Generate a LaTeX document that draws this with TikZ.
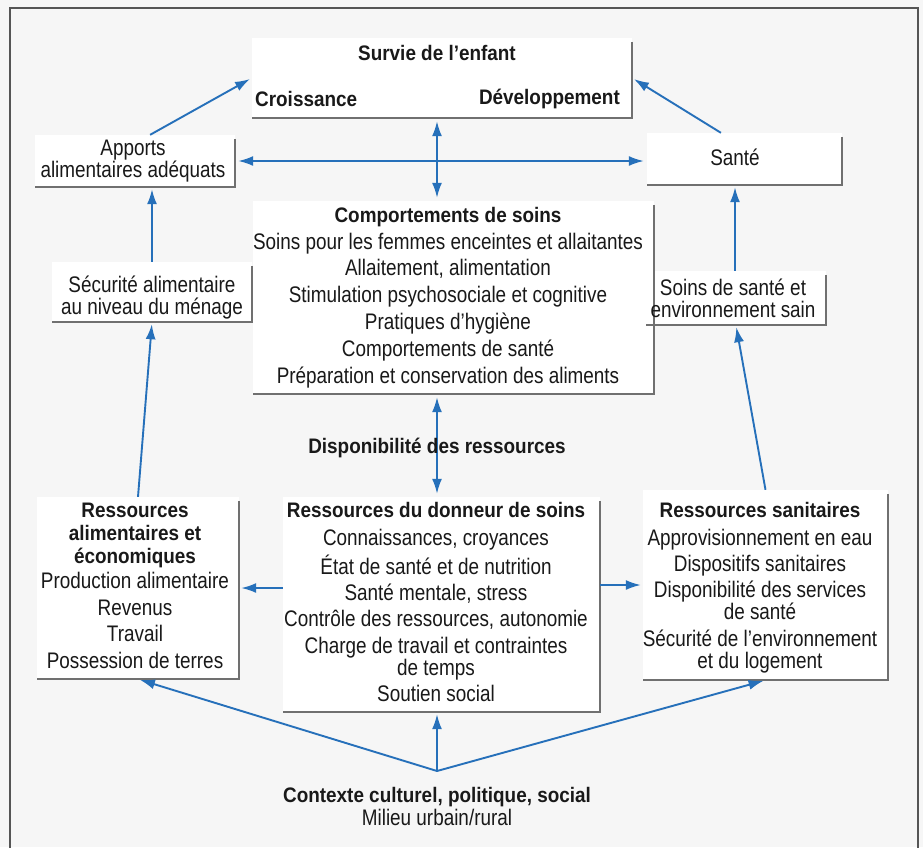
\documentclass[tikz,border=0pt]{standalone}
\usepackage{fontspec}
\setmainfont{Liberation Sans}
\newfontfamily\condreg{Liberation Sans}[FakeStretch=0.84]
\newfontfamily\condbold{Liberation Sans}[FakeStretch=0.9]
\usetikzlibrary{arrows.meta,calc}

\definecolor{pagebg}{RGB}{246,246,246}
\definecolor{framegray}{RGB}{85,85,85}
\definecolor{edgegray}{RGB}{112,112,112}
\definecolor{flowblue}{RGB}{38,112,186}
\definecolor{ink}{RGB}{25,25,25}

\newcommand\lblbody{\condreg\fontsize{22.5}{22}\selectfont}
\newcommand\lblhead{\condbold\bfseries\fontsize{21}{22}\selectfont}

\begin{document}
\begin{tikzpicture}[x=1pt,y=-1pt,
  panel/.style={fill=white, draw=none, inner sep=0pt},
  edge/.style={draw=edgegray, line width=2.4pt},
  label/.style={inner sep=0pt, align=center, text=ink, font=\lblbody},
  tip/.style={Latex[length=15pt,width=10pt]},
  flow/.style={draw=flowblue, line width=1.9pt, -{Latex[length=15pt,width=10pt]}, shorten >=2pt},
  flowboth/.style={draw=flowblue, line width=1.9pt, {Latex[length=15pt,width=10pt]}-{Latex[length=15pt,width=10pt]}, shorten >=3pt, shorten <=3pt}]

\useasboundingbox (0,0) rectangle (923,847);
\fill[pagebg] (0,0) rectangle (923,847);

% outer frame
\draw[framegray, line width=1.8pt] (10,850) -- (10,8) -- (918,8) -- (918,850);

% white panels
\node[panel, minimum width=380pt, minimum height=80pt] (survie) at (442,78) {};
\node[panel, minimum width=200pt, minimum height=52pt] (apb) at (135,161) {};
\node[panel, minimum width=195pt, minimum height=52pt] (santeb) at (744.5,159) {};
\node[panel, minimum width=200pt, minimum height=60pt] (secb) at (152,292) {};
\node[panel, minimum width=180pt, minimum height=54pt] (soinsb) at (736,298) {};
\node[panel, minimum width=401pt, minimum height=193pt] (compb) at (453.5,297.5) {};
\node[panel, minimum width=202pt, minimum height=182pt] (ralb) at (138,588) {};
\node[panel, minimum width=317pt, minimum height=215pt] (donb) at (441.5,604.5) {};
\node[panel, minimum width=245pt, minimum height=190pt] (rsanb) at (765.5,585) {};

% shaded right and bottom edges of the panels
\foreach \b in {survie,apb,santeb,secb,soinsb,compb,ralb,donb,rsanb}
  \draw[edge] ([yshift=-4pt]\b.north east) -- (\b.south east) -- (\b.south west);

% texts
\node[label, font=\lblhead] (survie-t) at (437,53) {Survie de l’enfant};
\node[label, font=\lblhead, anchor=west] (croiss) at (255,99) {Croissance};
\node[label, font=\lblhead, anchor=east] (devel) at (620,99) {Développement};

\node[label] (apb-t) at (133,161) {Apports\\alimentaires adéquats};
\node[label] (santeb-t) at (735,157) {Santé};
\node[label] (secb-t) at (152,298) {Sécurité alimentaire\\au niveau du ménage};
\node[label] (soinsb-t) at (733,298) {Soins de santé et\\environnement sain};

\node[label] (compb-t) at (448,297.5) {{\lblhead Comportements de soins}\\[4.8pt]
  Soins pour les femmes enceintes et allaitantes\\[4.8pt]
  Allaitement, alimentation\\[4.8pt]
  Stimulation psychosociale et cognitive\\[4.8pt]
  Pratiques d’hygiène\\[4.8pt]
  Comportements de santé\\[4.8pt]
  Préparation et conservation des aliments};

\node[label] (ralb-t) at (135,586) {{\lblhead Ressources}\\[1pt]
  {\lblhead alimentaires et}\\[1pt]
  {\lblhead économiques}\\[3pt]
  Production alimentaire\\[4.7pt]
  Revenus\\[4.7pt]
  Travail\\[4.7pt]
  Possession de terres};

\node[label] (donb-t) at (436,602) {{\lblhead Ressources du donneur de soins}\\[6pt]
  Connaissances, croyances\\[4pt]
  État de santé et de nutrition\\[4pt]
  Santé mentale, stress\\[4pt]
  Contrôle des ressources, autonomie\\[4.5pt]
  Charge de travail et contraintes\\
  de temps\\[4pt]
  Soutien social};

\node[label] (rsanb-t) at (760,587.5) {{\lblhead Ressources sanitaires}\\[6pt]
  Approvisionnement en eau\\[4pt]
  Dispositifs sanitaires\\[4pt]
  Disponibilité des services\\
  de santé\\[5pt]
  Sécurité de l’environnement\\
  et du logement};

\node[label] (ctx) at (437,806) {{\lblhead Contexte culturel, politique, social}\\[1pt]
  Milieu urbain/rural};
\coordinate (hub) at (437,771);

% connectors
\draw[flow] (apb.60) -- (survie.west);
\draw[flow] (santeb.132) -- (survie.east);
\draw[flowboth] (survie.south -| ctx) -- (compb.north -| ctx);
\draw[flowboth] (apb.east) -- (apb.east -| santeb.west);

\draw[flow] (secb.north) -- (secb.north |- apb.south);
\draw[flow] (ralb.north) -- (secb.south);
\draw[flow] (soinsb.north -| santeb-t) -- (santeb.south -| santeb-t);
\draw[flow] (rsanb.north) -- (soinsb.south);

\draw[flowboth] (compb.south -| ctx) -- (donb.north -| ctx);
\node[label, font=\lblhead] (dispo) at (437,448) {Disponibilité des ressources};

\draw[flow] (ralb.east -| donb.west) -- (ralb.east);
\draw[flow] (rsanb.west -| donb.east) -- (rsanb.west);

\draw[flow] (hub) -- (ralb.south);
\draw[flow] (hub) -- (donb.south -| hub);
\draw[flow] (hub) -- (rsanb.south);
\end{tikzpicture}
\end{document}
